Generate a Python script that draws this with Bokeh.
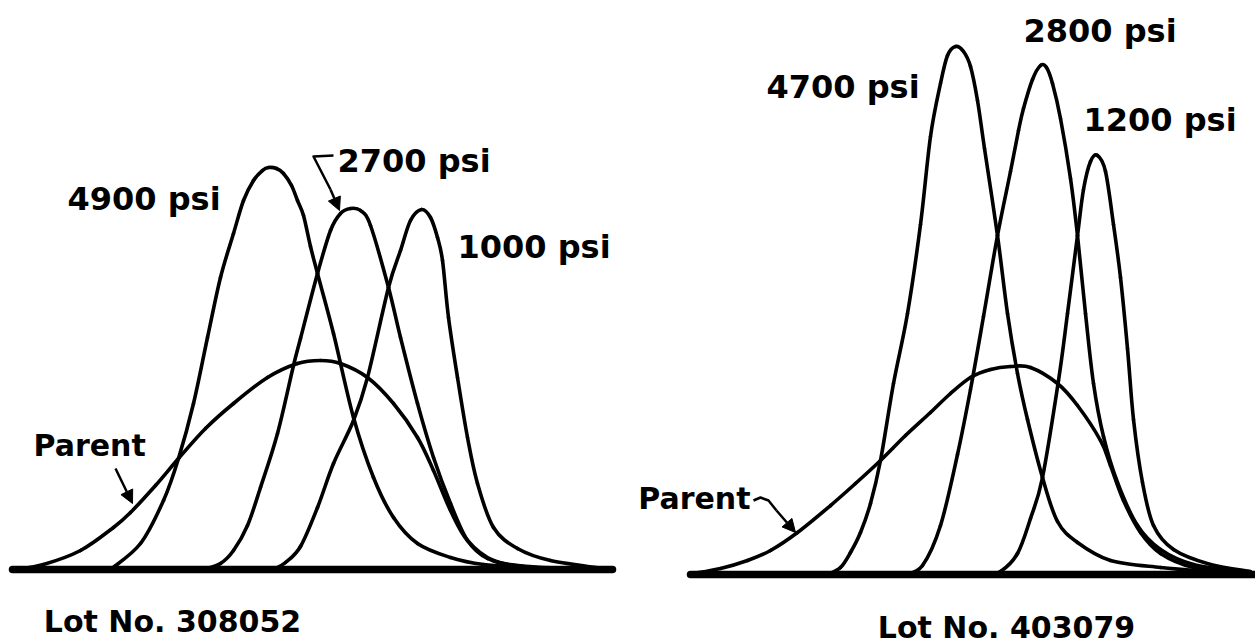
from bokeh.plotting import figure
from bokeh.layouts import row
from bokeh.models import Range1d, Arrow, NormalHead
from bokeh.core.properties import value
from bokeh.embed import file_html
from bokeh.resources import INLINE

# ---------------- Lot No. 308052 (left panel) ----------------
# x: position along the (unlabelled) abscissa, h: relative frequency height above baseline
l4900_x = [110, 140, 163, 178, 193, 207, 220, 233, 243, 253, 262, 268, 276, 283, 291, 297, 303, 310, 317, 333, 353, 373, 393, 417, 450, 483, 530, 600]
l4900_h = [0, 26, 69, 111, 166, 232, 292, 336, 369, 389, 399, 402, 401, 396, 384, 369, 354, 323, 296, 236, 152, 92, 52, 26, 12, 5, 2, 0]

l2700_x = [203, 220, 233, 247, 260, 277, 293, 300, 317, 330, 340, 350, 360, 370, 388, 400, 417, 433, 450, 467, 487, 517, 580]
l2700_h = [0, 6, 19, 44, 82, 136, 204, 231, 296, 339, 356, 361, 359, 344, 282, 232, 166, 112, 66, 29, 11, 4, 0]

l1000_x = [273, 285, 300, 317, 333, 353, 367, 388, 400, 410, 421, 430, 437, 442, 448, 457, 467, 477, 493, 517, 550, 610]
l1000_h = [0, 7, 23, 62, 106, 149, 192, 282, 319, 349, 360, 352, 332, 309, 252, 192, 132, 86, 42, 21, 9, 0]

lpar_x = [15, 43, 80, 113, 130, 155, 178, 205, 233, 267, 297, 320, 340, 367, 393, 417, 433, 450, 467, 493, 533, 600]
lpar_h = [0, 5, 19, 42, 57, 84, 111, 141, 166, 192, 206, 209, 206, 192, 166, 132, 99, 59, 29, 9, 2, 0]

l_base_x = [12, 612]
l_labels = ["4900 psi", "2700 psi", "1000 psi"]
l_label_x = [67, 337, 457]
l_label_h = [371, 409, 323]
l_parent_label = "Parent"
l_parent_pos = (33, 124)
l_title = "Lot No. 308052"
l_title_pos = (172, -52)
l_lead2700_x = [333, 313, 330]
l_lead2700_h = [414, 413, 380]
l_lead2700_tip = (339, 359)
l_parent_arrow = (115, 101, 132, 66)

# ---------------- Lot No. 403079 (right panel) ----------------
r4700_x = [827, 840, 850, 860, 870, 880, 893, 907, 920, 930, 940, 947, 955, 963, 970, 977, 984, 997, 1007, 1017, 1027, 1042, 1057, 1077, 1110, 1160, 1210, 1245]
r4700_h = [0, 7, 22, 42, 71, 114, 191, 261, 350, 438, 491, 519, 528, 523, 508, 474, 426, 339, 261, 201, 155, 97, 53, 32, 14, 7, 3, 1]

r2800_x = [905, 922, 940, 957, 970, 983, 997, 1010, 1018, 1023, 1032, 1040, 1046, 1052, 1060, 1070, 1077, 1085, 1093, 1103, 1117, 1137, 1160, 1193, 1245]
r2800_h = [0, 9, 49, 120, 185, 258, 339, 403, 444, 466, 495, 509, 507, 491, 456, 396, 339, 261, 191, 138, 92, 49, 25, 10, 2]

r1200_x = [985, 1000, 1017, 1030, 1042, 1058, 1067, 1077, 1083, 1090, 1097, 1105, 1113, 1120, 1127, 1133, 1142, 1153, 1173, 1210, 1250]
r1200_h = [0, 3, 21, 56, 97, 194, 261, 339, 385, 413, 419, 403, 350, 297, 226, 155, 92, 49, 25, 10, 3]

rpar_x = [693, 720, 747, 770, 797, 830, 855, 880, 905, 930, 950, 970, 990, 1010, 1030, 1057, 1077, 1100, 1110, 1123, 1140, 1160, 1193, 1240]
rpar_h = [1, 6, 14, 24, 42, 69, 91, 114, 139, 162, 181, 197, 205, 208, 207, 191, 169, 134, 109, 74, 42, 21, 7, 2]

r_base_x = [690, 1262]
r_labels = ["4700 psi", "2800 psi", "1200 psi"]
r_label_x = [766, 1023, 1083]
r_label_h = [488, 544, 455]
r_parent_label = "Parent"
r_parent_pos = (750, 76)
r_title = "Lot No. 403079"
r_title_pos = (1006, -53)
r_lead_x = [753, 760, 768, 776]
r_lead_h = [74, 77, 74, 64]
r_parent_arrow = (776, 64, 795, 42)

LABEL_FONT = value("DejaVu Sans")


def make_fig(x0, x1, y0, y1, w):
    p = figure(width=w, height=644, x_range=Range1d(x0, x1), y_range=Range1d(y0, y1),
               output_backend="svg", toolbar_location=None, min_border=0)
    p.axis.visible = False
    p.grid.visible = False
    p.outline_line_color = None
    p.background_fill_color = "white"
    p.border_fill_color = "white"
    return p


def curve(p, xs, hs):
    # smooth Catmull-Rom path through the read points, drawn as Bezier segments
    n = len(xs)
    px = [xs[0]] + list(xs) + [xs[-1]]
    ph = [hs[0]] + list(hs) + [hs[-1]]
    x0, y0, x1, y1, cx0, cy0, cx1, cy1 = ([] for _ in range(8))
    for i in range(1, n):
        x0.append(px[i]); y0.append(ph[i])
        x1.append(px[i + 1]); y1.append(ph[i + 1])
        cx0.append(px[i] + (px[i + 1] - px[i - 1]) / 6.0)
        cy0.append(ph[i] + (ph[i + 1] - ph[i - 1]) / 6.0)
        cx1.append(px[i + 1] - (px[i + 2] - px[i]) / 6.0)
        cy1.append(ph[i + 1] - (ph[i + 2] - ph[i]) / 6.0)
    p.bezier(x0=x0, y0=y0, x1=x1, y1=y1, cx0=cx0, cy0=cy0, cx1=cx1, cy1=cy1,
             line_color="black", line_width=3.6, line_cap="round")


def labels(p, txt, xs, hs, size="32px", weight="bold", align="left"):
    p.text(x=xs, y=hs, text=txt, text_font=LABEL_FONT, text_font_size=size,
           text_font_style=weight, text_color="black", text_align=align,
           text_baseline="alphabetic")


def arrow(p, x0, y0, x1, y1):
    p.add_layout(Arrow(end=NormalHead(size=13, fill_color="black", line_color="black", line_width=1),
                       x_start=x0, y_start=y0, x_end=x1, y_end=y1,
                       line_color="black", line_width=2.5))


# left panel (page x 0..625)
p1 = make_fig(0, 625, -75, 569, 625)
p1.line(l_base_x, [0, 0], line_color="black", line_width=7.5, line_cap="round")
for xs, hs in [(lpar_x, lpar_h), (l4900_x, l4900_h), (l2700_x, l2700_h), (l1000_x, l1000_h)]:
    curve(p1, xs, hs)
labels(p1, l_labels, l_label_x, l_label_h)
labels(p1, [l_parent_label], [l_parent_pos[0]], [l_parent_pos[1]], size="30px")
labels(p1, [l_title], [l_title_pos[0]], [l_title_pos[1]], size="30px", align="center")
p1.line(l_lead2700_x, l_lead2700_h, line_color="black", line_width=2.5, line_join="round")
arrow(p1, l_lead2700_x[-1], l_lead2700_h[-1], *l_lead2700_tip)
arrow(p1, *l_parent_arrow)

# right panel (page x 625..1255)
p2 = make_fig(625, 1255, -70, 574, 630)
p2.line(r_base_x, [0, 0], line_color="black", line_width=7.5, line_cap="round")
for xs, hs in [(rpar_x, rpar_h), (r4700_x, r4700_h), (r2800_x, r2800_h), (r1200_x, r1200_h)]:
    curve(p2, xs, hs)
labels(p2, r_labels, r_label_x, r_label_h)
labels(p2, [r_parent_label], [r_parent_pos[0]], [r_parent_pos[1]], size="30px", align="right")
labels(p2, [r_title], [r_title_pos[0]], [r_title_pos[1]], size="30px", align="center")
p2.line(r_lead_x, r_lead_h, line_color="black", line_width=2.5, line_join="round")
arrow(p2, *r_parent_arrow)

layout = row(p1, p2, spacing=0)
open("out.html", "w").write(file_html(layout, INLINE))
